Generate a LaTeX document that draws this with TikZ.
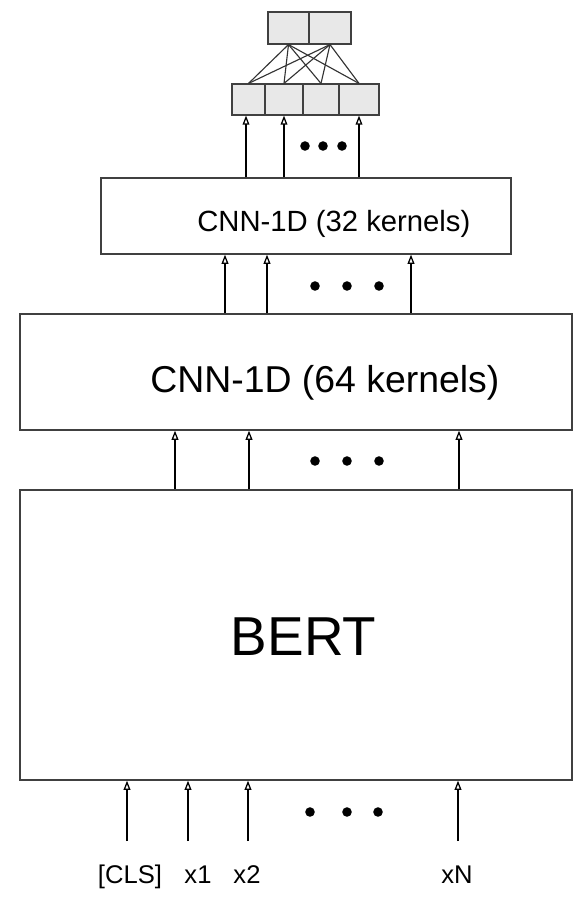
\documentclass[tikz,border=0pt]{standalone}
\usepackage{fontspec}
\setmainfont{Liberation Sans}
\usetikzlibrary{arrows.meta, positioning, calc}

\tikzset{
  layer/.style={draw=black!75, line width=0.9pt, inner sep=0pt},
  cell/.style={draw=black!75, fill=black!9, line width=0.8pt, inner sep=0pt},
  wire/.style={draw=black!80, line width=0.8pt},
  up/.style={line width=1.4pt, -{Triangle[open,length=6.5pt,width=4.8pt,line width=0.9pt]}},
  tok/.style={font=\fontsize{18.2}{20}\selectfont, inner sep=0pt}
}

\begin{document}
\begin{tikzpicture}[x=0.025cm,y=-0.025cm]
  \useasboundingbox (0,0) rectangle (580,900);

  % main blocks
  \node[layer,minimum width=13.8cm,minimum height=7.25cm] (bert) at (296,635) {};
  \node[layer,minimum width=13.8cm,minimum height=2.9cm] (cnnA) at (296,372) {};
  \node[layer,minimum width=10.25cm,minimum height=1.9cm] (cnnB) at (306,216) {};

  \node[font=\fontsize{39}{41}\selectfont,anchor=base,inner sep=0pt] (bertlbl) at (303.5,655) {BERT};
  \node[font=\fontsize{26.6}{28}\selectfont,anchor=base west,inner sep=0pt] (cnnAlbl) at (150,392) {CNN-1D (64 kernels)};
  \node[font=\fontsize{20.8}{22}\selectfont,anchor=base west,inner sep=0pt] (cnnBlbl) at (197,231) {CNN-1D (32 kernels)};

  % hidden and output cells
  \foreach \l/\r [count=\i] in {232/265,265/303,303/339,339/379}{
    \pgfmathsetmacro\w{(\r-\l)*0.025}
    \node[cell,minimum width=\w cm,minimum height=0.775cm] (h\i) at ({(\l+\r)/2},99.5) {};
  }
  \foreach \l/\r [count=\i] in {268/309,309/351}{
    \pgfmathsetmacro\w{(\r-\l)*0.025}
    \node[cell,minimum width=\w cm,minimum height=0.8cm] (o\i) at ({(\l+\r)/2},28) {};
  }
  \foreach \i in {1,2}
    \foreach \j in {1,...,4}
      \draw[wire] (o\i.south) -- (h\j.north);

  % arrows between layers
  \foreach \n/\x in {1/246,2/284,4/359}
    \draw[up] (cnnB.north -| \x,0) -- (h\n.south -| \x,0);
  \foreach \x in {225,267,411}
    \draw[up] (cnnA.north -| \x,0) -- (cnnB.south -| \x,0);
  \foreach \x in {175,249,459}
    \draw[up] (bert.north -| \x,0) -- (cnnA.south -| \x,0);

  % inputs
  \foreach \x/\t/\lx [count=\i] in {127/{[CLS]}/130, 188/x1/198, 248/x2/247, 458/xN/457}{
    \node[tok,anchor=base] (tok\i) at (\lx,883) {\t};
    \coordinate (in\i) at (\x,841);
    \draw[up] (in\i) -- (bert.south -| in\i);
  }

  % dots
  \foreach \x in {305,323,342}
    \fill (\x,146) circle[radius=3.4pt];
  \foreach \x in {315,347,379}{
    \fill (\x,286) circle[radius=3.4pt];
    \fill (\x,461) circle[radius=3.4pt];
  }
  \foreach \x in {310,347,378}
    \fill (\x,812) circle[radius=3.4pt];
\end{tikzpicture}
\end{document}
